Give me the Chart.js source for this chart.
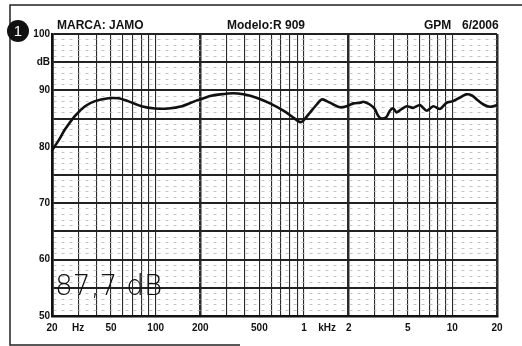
<!DOCTYPE html>
<html>
<head>
<meta charset="utf-8">
<script src="https://cdn.jsdelivr.net/npm/chart.js@4.4.1/dist/chart.umd.min.js"></script>
<style>
  html,body{margin:0;padding:0;background:#fff;}
</style>
</head>
<body>
<canvas id="myChart" width="522" height="346"></canvas>
<script>
// frequency response (Hz / dB)
var freqs=[20,22,24.5,28.6,33.4,39,48,56,65,80,99,122,150,184,200,233,272,334,390,478,590,726,846,935,984,1100,1218,1316,1424,1578,1752,1940,2154,2390,2514,2780,3000,3160,3336,3600,3790,4000,4210,4550,4920,5450,6050,6700,7440,8250,9140,10100,11200,12400,13560,14600,16200,17900,20000];
var levels=[79.4,81.0,83.1,85.5,87.2,88.1,88.6,88.6,88.1,87.2,86.8,86.8,87.2,88.1,88.4,89.0,89.3,89.5,89.3,88.7,87.7,86.4,85.2,84.4,84.6,86.1,87.5,88.4,88.1,87.5,87.0,87.2,87.7,87.8,88.0,87.5,86.7,85.5,85.0,85.3,86.4,86.8,86.1,86.7,87.2,86.9,87.4,86.4,87.2,86.7,87.8,88.1,88.7,89.3,89.1,88.4,87.5,87.1,87.4];

var gridFreqs=[20,30,40,50,60,70,80,90,100,200,300,400,500,600,700,800,900,1000,2000,3000,4000,5000,6000,7000,8000,9000,10000,20000];
var majorFreqs=[20,200,2000,20000];
var labelFreqs=[20,30,50,100,200,500,1000,2000,5000,10000,20000];
var labelTexts=['20','Hz','50','100','200','500','1','2','5','10','20'];
var dbTicks=[100,95,90,80,70,60,50];
var dbTexts=['100','dB','90','80','70','60','50'];

var boldFont='"Liberation Sans", Arial, sans-serif';

var paper={
  id:'paper',
  beforeDraw:function(chart){
    var c=chart.ctx;
    c.save();
    c.fillStyle='#fff';
    c.fillRect(0,0,chart.width,chart.height);
    c.strokeStyle='#222';
    c.lineWidth=1.5;
    c.beginPath();
    c.moveTo(chart.width,5);
    c.lineTo(10,5);
    c.lineTo(10,345);
    c.lineTo(240,345);
    c.stroke();
    c.restore();
  },
  afterDraw:function(chart){
    var c=chart.ctx;
    var a=chart.chartArea;
    c.save();
    // header
    c.fillStyle='#111';
    c.font='bold 12px '+boldFont;
    c.textBaseline='alphabetic';
    c.textAlign='left';
    c.fillText('MARCA: JAMO',57,29);
    c.fillText('Modelo:R 909',227,29);
    c.fillText('GPM',424,29);
    c.fillText('6/2006',462,29);
    // number badge
    c.beginPath();
    c.arc(18,31,11,0,Math.PI*2);
    c.fill();
    c.fillStyle='#fff';
    c.font='15px '+boldFont;
    c.textAlign='center';
    c.textBaseline='middle';
    c.fillText('1',18,32);
    // kHz unit on the x axis
    var xs=chart.scales.x;
    c.fillStyle='#111';
    c.font='bold 10px '+boldFont;
    c.fillText('kHz',xs.getPixelForValue(1430),a.bottom+12);
    // sensitivity
    c.font='200 28px "DejaVu Sans", sans-serif';
    c.textAlign='left';
    c.textBaseline='alphabetic';
    c.fillText('87,7 dB',a.left+3,a.bottom-21);
    c.restore();
  }
};

var ctx=document.getElementById('myChart').getContext('2d');
var chart=new Chart(ctx,{
  type:'line',
  data:{
    datasets:[{
      data:freqs.map(function(f,i){return {x:f,y:levels[i]};}),
      borderColor:'#111',
      borderWidth:2.6,
      pointRadius:0,
      tension:0.25,
      fill:false
    }]
  },
  options:{
    responsive:false,
    animation:false,
    devicePixelRatio:1,
    layout:{padding:{left:0,right:25,top:34,bottom:0}},
    plugins:{legend:{display:false},tooltip:{enabled:false}},
    scales:{
      x:{
        type:'logarithmic',
        min:20,max:20000,
        afterBuildTicks:function(s){s.ticks=gridFreqs.map(function(v){return {value:v};});},
        afterFit:function(s){s.height=30;},
        ticks:{
          autoSkip:false,maxRotation:0,padding:6,color:'#111',
          font:{family:boldFont,size:10,weight:'bold'},
          callback:function(v){var i=labelFreqs.indexOf(v);return i<0?'':labelTexts[i];}
        },
        grid:{
          drawTicks:false,
          color:'#2a2a2a',
          lineWidth:function(ctx){return ctx.tick&&majorFreqs.indexOf(ctx.tick.value)>=0?2.5:1.1;}
        },
        border:{display:true,color:'#111',width:2.5}
      },
      y:{
        type:'linear',
        min:50,max:100,
        afterBuildTicks:function(s){var t=[];for(var v=50;v<=100;v++){t.push({value:v});}s.ticks=t;},
        afterFit:function(s){s.width=52;},
        ticks:{
          autoSkip:false,padding:2,color:'#111',
          font:{family:boldFont,size:10,weight:'bold'},
          callback:function(v){var i=dbTicks.indexOf(v);return i<0?'':dbTexts[i];}
        },
        grid:{
          drawTicks:false,
          color:function(ctx){return ctx.tick&&ctx.tick.value%5===0?'#222':'#b4b4b4';},
          lineWidth:function(ctx){return ctx.tick&&ctx.tick.value%5===0?2:0.8;}
        },
        border:{
          display:true,color:'#111',width:2.5,
          dash:function(ctx){return ctx.tick&&ctx.tick.value%5!==0?[3,5]:[];}
        }
      }
    }
  },
  plugins:[paper]
});
</script>
</body>
</html>
